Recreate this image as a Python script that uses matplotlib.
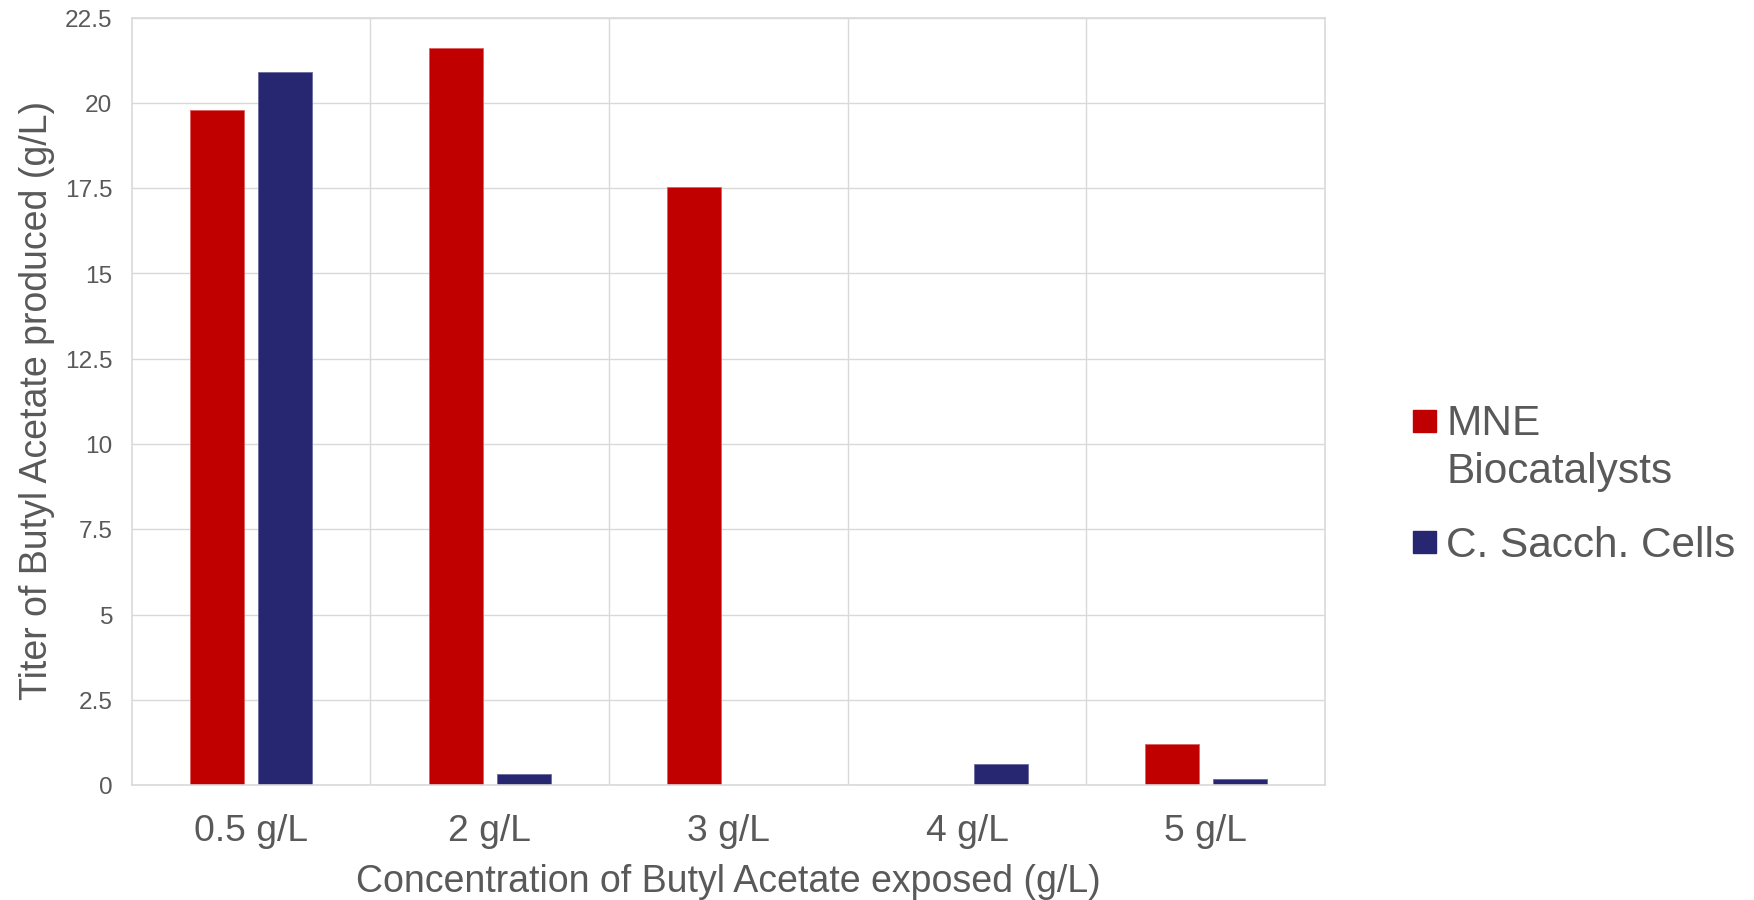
import matplotlib
matplotlib.use("Agg")
import matplotlib.pyplot as plt
from matplotlib.patches import Rectangle
import numpy as np

# Data
categories = ["0.5 g/L", "2 g/L", "3 g/L", "4 g/L", "5 g/L"]
mne_biocatalysts = [19.78, 21.6, 17.55, 0.0, 1.2]
c_sacch_cells = [20.9, 0.33, 0.0, 0.62, 0.18]
series_labels = [["MNE", "Biocatalysts"], ["C. Sacch. Cells"]]
yticks = [0, 2.5, 5, 7.5, 10, 12.5, 15, 17.5, 20, 22.5]
ytick_labels = ["0", "2.5", "5", "7.5", "10", "12.5", "15", "17.5", "20", "22.5"]

RED = "#C00000"
NAVY = "#262671"
GRID = "#D9D9D9"
TEXT = "#595959"

plt.rcParams["font.family"] = ["Liberation Sans", "DejaVu Sans"]

W, H = 1754, 901
fig = plt.figure(figsize=(W / 100, (H - 0.4) / 100), dpi=100)
ax = fig.add_axes([131.7 / W, 1 - 786 / H, (1325 - 131.7) / W, (786 - 18.3) / H])

x = np.arange(len(categories))
bw = 0.225
off = 0.1425
ax.bar(x - off, mne_biocatalysts, width=bw, color=RED, edgecolor="#E06060",
       linewidth=0.6, zorder=2)
ax.bar(x + off, c_sacch_cells, width=bw, color=NAVY, edgecolor="#6A6AA0",
       linewidth=0.6, zorder=2)

ax.set_xlim(-0.5, len(categories) - 0.5)
ax.set_ylim(0, 22.5)
ax.set_yticks(yticks)
ax.set_yticklabels(ytick_labels)
ax.set_xticks(x)
ax.set_xticklabels(categories)
ax.set_xticks(np.arange(len(categories) - 1) + 0.5, minor=True)

ax.grid(axis="y", which="major", color=GRID, linewidth=1.0, zorder=0)
ax.grid(axis="x", which="minor", color=GRID, linewidth=1.0, zorder=0)
ax.grid(axis="x", which="major", visible=False)
ax.set_axisbelow(True)

for s in ax.spines.values():
    s.set_color(GRID)
    s.set_linewidth(1.2)

ax.tick_params(axis="both", which="both", length=0)
ax.tick_params(axis="y", labelsize=17.6, labelcolor=TEXT, pad=14)
ax.tick_params(axis="x", labelsize=26.8, labelcolor=TEXT, pad=20.5)

# Axis titles
fig.text(37 / W, 1 - 401 / H, "Titer of Butyl Acetate produced (g/L)",
         rotation=90, ha="center", va="center", fontsize=27, color=TEXT)
fig.text(728 / W, 1 - 892 / H, "Concentration of Butyl Acetate exposed (g/L)",
         ha="center", va="baseline", fontsize=27, color=TEXT)

# Legend
fig.add_artist(Rectangle((1413 / W, 1 - 433 / H), 22.5 / W, 22 / H,
                         transform=fig.transFigure, color=RED))
fig.add_artist(Rectangle((1413 / W, 1 - 554.3 / H), 22.5 / W, 22 / H,
                         transform=fig.transFigure, color=NAVY))
fig.text(1446 / W, 1 - 435 / H, series_labels[0][0], ha="left", va="baseline",
         fontsize=30.5, color=TEXT)
fig.text(1446 / W, 1 - 483 / H, series_labels[0][1], ha="left", va="baseline",
         fontsize=30.5, color=TEXT)
fig.text(1446 / W, 1 - 557 / H, series_labels[1][0], ha="left", va="baseline",
         fontsize=30.5, color=TEXT)

fig.savefig("out.png", dpi=100, facecolor="white")
